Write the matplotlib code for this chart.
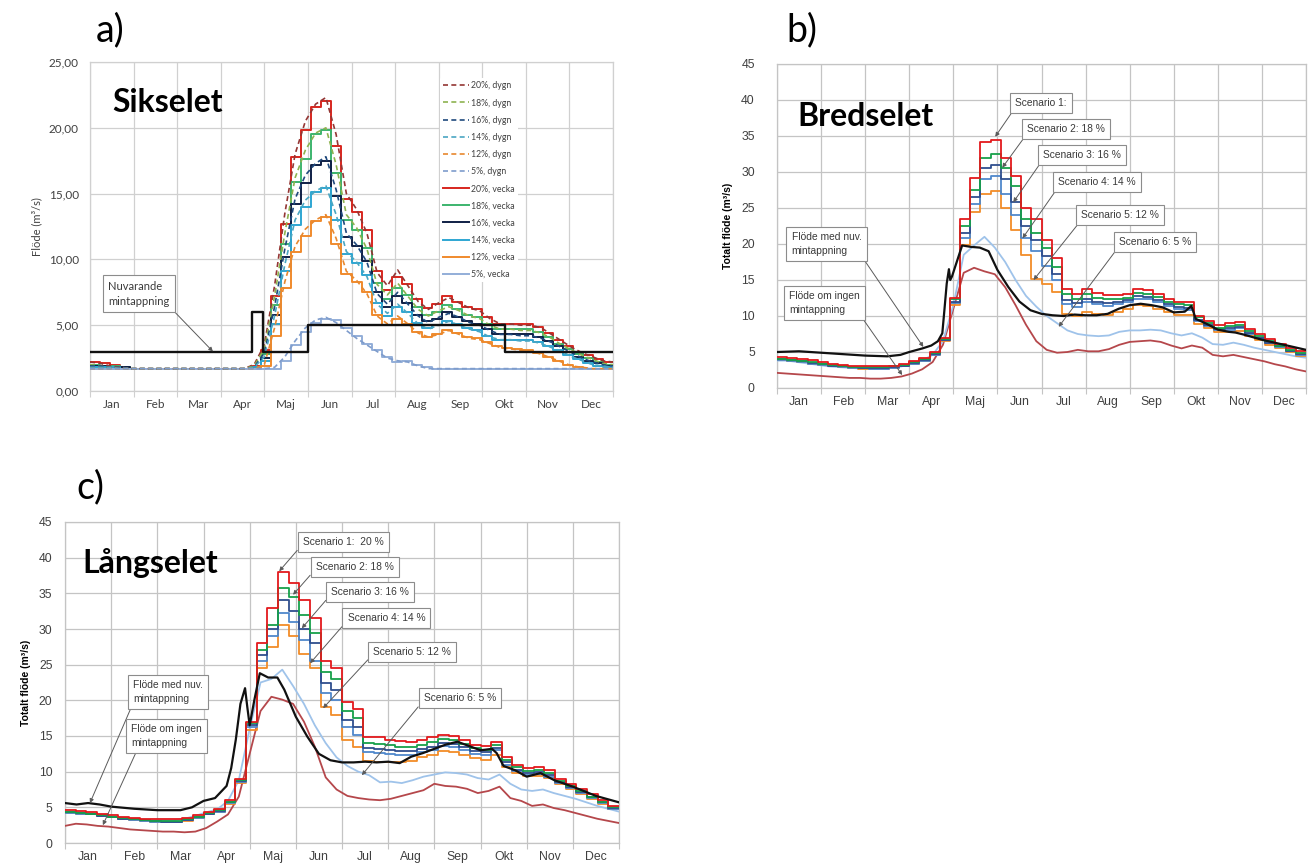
import numpy as np
import matplotlib
matplotlib.use("Agg")
import matplotlib.pyplot as plt

W, H = 1316, 865
plt.rcParams["font.family"] = ["Liberation Sans", "DejaVu Sans"]

MANADER = ["Jan", "Feb", "Mar", "Apr", "Maj", "Jun", "Jul", "Aug", "Sep", "Okt", "Nov", "Dec"]

# veckogränser (i månader) för trappstegskurvorna, och jämnt fördelade punkter för dygnskurvorna
VECKA_KANT = np.arange(53) * 12 / 52
DAG_X = np.linspace(0, 12, 52)

# ---------------- a) Sikselet ----------------
a_v20 = [2.2, 2.1, 2.0, 1.8, 1.7, 1.7, 1.7, 1.7, 1.7, 1.7, 1.7, 1.7, 1.7, 1.7, 1.7, 1.7,
         1.9, 3.1, 7.2, 12.7, 17.8, 19.8, 21.6, 22.0, 18.6, 14.6, 13.6, 12.2, 9.1, 7.7, 8.7, 8.1,
         7.0, 6.3, 6.6, 7.2, 6.8, 6.4, 6.2, 5.6, 5.1, 5.1, 5.1, 5.1, 4.9, 4.4, 3.9, 3.4, 3.0, 2.7, 2.4, 2.2]
a_v18 = [2.0, 1.9, 1.9, 1.8, 1.7, 1.7, 1.7, 1.7, 1.7, 1.7, 1.7, 1.7, 1.7, 1.7, 1.7, 1.7,
         1.8, 2.8, 6.5, 11.2, 15.9, 17.6, 19.5, 19.8, 16.6, 13.0, 12.2, 10.9, 8.2, 7.0, 7.8, 7.3,
         6.4, 5.8, 6.0, 6.5, 6.2, 5.8, 5.6, 5.1, 4.7, 4.7, 4.7, 4.7, 4.5, 4.1, 3.6, 3.2, 2.8, 2.5, 2.2, 2.0]
a_v16 = [1.9, 1.9, 1.8, 1.8, 1.7, 1.7, 1.7, 1.7, 1.7, 1.7, 1.7, 1.7, 1.7, 1.7, 1.7, 1.7,
         1.8, 2.5, 5.8, 10.2, 14.2, 15.8, 17.2, 17.5, 14.8, 11.7, 11.0, 9.9, 7.5, 6.4, 7.2, 6.7,
         5.8, 5.3, 5.5, 6.0, 5.6, 5.3, 5.1, 4.7, 4.3, 4.3, 4.3, 4.3, 4.1, 3.8, 3.4, 3.0, 2.6, 2.3, 2.1, 1.9]
a_v14 = [1.8, 1.8, 1.8, 1.7, 1.7, 1.7, 1.7, 1.7, 1.7, 1.7, 1.7, 1.7, 1.7, 1.7, 1.7, 1.7,
         1.8, 2.3, 5.1, 9.1, 12.6, 14.0, 15.1, 15.4, 13.0, 10.4, 9.7, 8.8, 6.7, 5.7, 6.4, 6.0,
         5.2, 4.8, 5.0, 5.3, 5.1, 4.8, 4.6, 4.2, 3.9, 3.9, 3.9, 3.9, 3.7, 3.4, 3.1, 2.7, 2.4, 2.1, 1.9, 1.8]
a_v12 = [1.7, 1.7, 1.7, 1.7, 1.7, 1.7, 1.7, 1.7, 1.7, 1.7, 1.7, 1.7, 1.7, 1.7, 1.7, 1.7, 1.7,
         1.9, 4.2, 7.8, 10.6, 11.8, 12.9, 13.2, 11.2, 8.9, 8.3, 7.5, 5.8, 5.0, 5.5, 5.1,
         4.5, 4.1, 4.3, 4.6, 4.4, 4.1, 4.0, 3.7, 3.4, 3.3, 3.2, 3.1, 2.9, 2.6, 2.3, 2.0, 1.8, 1.7, 1.7, 1.7]
a_v5 = [1.7, 1.7, 1.7, 1.7, 1.7, 1.7, 1.7, 1.7, 1.7, 1.7, 1.7, 1.7, 1.7, 1.7, 1.7, 1.7, 1.7, 1.7, 1.7,
        2.3, 3.5, 4.5, 5.2, 5.5, 5.4, 4.8, 4.2, 3.6, 3.1, 2.6, 2.2, 2.3, 2.0, 1.8,
        1.7, 1.7, 1.7, 1.7, 1.7, 1.7, 1.7, 1.7, 1.7, 1.7, 1.7, 1.7, 1.7, 1.7, 1.7, 1.7, 1.7, 1.7]

a_d20 = [2.2, 2.1, 1.9, 1.8, 1.7, 1.7, 1.7, 1.7, 1.7, 1.7, 1.7, 1.7, 1.7, 1.7, 1.7, 1.7,
         2.0, 3.5, 8.0, 13.5, 18.0, 20.5, 21.8, 22.3, 19.5, 15.0, 13.8, 12.0, 9.0, 8.0, 9.2, 8.0,
         6.8, 6.2, 6.7, 7.1, 6.7, 6.3, 6.1, 5.5, 5.1, 5.1, 5.0, 5.0, 4.8, 4.3, 3.8, 3.3, 2.9, 2.6, 2.3, 2.2]
a_d18 = [2.0, 1.9, 1.8, 1.8, 1.7, 1.7, 1.7, 1.7, 1.7, 1.7, 1.7, 1.7, 1.7, 1.7, 1.7, 1.7,
         1.9, 3.2, 7.2, 12.0, 16.2, 18.3, 19.6, 20.0, 17.2, 13.4, 12.4, 10.8, 8.1, 7.3, 8.2, 7.2,
         6.2, 5.7, 6.1, 6.4, 6.1, 5.7, 5.5, 5.0, 4.7, 4.7, 4.6, 4.6, 4.4, 4.0, 3.5, 3.1, 2.7, 2.4, 2.1, 2.0]
a_d16 = [1.9, 1.9, 1.8, 1.8, 1.7, 1.7, 1.7, 1.7, 1.7, 1.7, 1.7, 1.7, 1.7, 1.7, 1.7, 1.7,
         1.8, 2.9, 6.4, 10.8, 14.6, 16.4, 17.3, 17.8, 15.3, 12.0, 11.1, 9.8, 7.4, 6.6, 7.5, 6.6,
         5.7, 5.2, 5.6, 5.9, 5.6, 5.2, 5.0, 4.6, 4.3, 4.3, 4.2, 4.2, 4.0, 3.7, 3.3, 2.9, 2.5, 2.2, 2.0, 1.9]
a_d14 = [1.8, 1.8, 1.8, 1.7, 1.7, 1.7, 1.7, 1.7, 1.7, 1.7, 1.7, 1.7, 1.7, 1.7, 1.7, 1.7,
         1.8, 2.6, 5.7, 9.6, 13.0, 14.5, 15.2, 15.6, 13.4, 10.6, 9.8, 8.7, 6.6, 5.9, 6.6, 5.9,
         5.1, 4.7, 5.0, 5.3, 5.0, 4.7, 4.5, 4.1, 3.9, 3.9, 3.8, 3.8, 3.6, 3.3, 3.0, 2.6, 2.3, 2.0, 1.9, 1.8]
a_d12 = [1.7, 1.7, 1.7, 1.7, 1.7, 1.7, 1.7, 1.7, 1.7, 1.7, 1.7, 1.7, 1.7, 1.7, 1.7, 1.7, 1.7,
         2.0, 4.8, 8.3, 11.0, 12.3, 13.0, 13.4, 11.6, 9.1, 8.4, 7.4, 5.7, 5.1, 5.7, 5.1,
         4.4, 4.1, 4.3, 4.6, 4.3, 4.0, 3.9, 3.6, 3.3, 3.2, 3.1, 3.0, 2.8, 2.5, 2.2, 1.9, 1.8, 1.7, 1.7, 1.7]
a_d5 = [1.7, 1.7, 1.7, 1.7, 1.7, 1.7, 1.7, 1.7, 1.7, 1.7, 1.7, 1.7, 1.7, 1.7, 1.7, 1.7, 1.7, 1.7,
        1.8, 2.6, 3.8, 4.8, 5.4, 5.6, 5.2, 4.6, 4.0, 3.5, 3.0, 2.5, 2.3, 2.2, 1.9,
        1.7, 1.7, 1.7, 1.7, 1.7, 1.7, 1.7, 1.7, 1.7, 1.7, 1.7, 1.7, 1.7, 1.7, 1.7, 1.7, 1.7, 1.7, 1.7]

# nuvarande mintappning (brytpunkter, månad -> m3/s)
a_nuv_x = [0, 3.71, 3.97, 5.0, 9.52, 12]
a_nuv_y = [3, 6, 3, 5, 3, 3]

# ---------------- b) Bredselet ----------------
b_s1 = [4.3, 4.2, 4.0, 3.9, 3.6, 3.4, 3.2, 3.1, 3.0, 3.0, 3.0, 3.1, 3.3, 3.8, 4.2, 5.0, 7.0, 12.5,
        23.5, 29.2, 34.2, 34.5, 32.0, 29.5, 25.0, 23.5, 20.5, 18.0, 13.8, 13.0, 13.8, 13.2, 12.9, 12.9,
        13.0, 13.8, 13.6, 13.0, 12.4, 12.0, 11.9, 10.0, 9.3, 8.7, 9.0, 9.2, 8.2, 7.5, 6.8, 6.1, 5.6, 5.1]
b_s2 = [4.0, 3.9, 3.8, 3.6, 3.4, 3.2, 3.0, 2.9, 2.9, 2.9, 2.9, 3.0, 3.2, 3.6, 4.0, 4.8, 6.8, 12.3,
        22.5, 27.5, 32.0, 32.5, 30.5, 28.0, 23.5, 21.5, 19.5, 16.8, 13.0, 12.4, 13.0, 12.5, 12.3, 12.4,
        12.5, 13.2, 13.1, 12.6, 12.0, 11.6, 11.5, 9.8, 9.0, 8.4, 8.6, 8.8, 7.9, 7.2, 6.5, 5.9, 5.3, 4.8]
b_s3 = [4.0, 3.9, 3.7, 3.5, 3.3, 3.1, 3.0, 2.9, 2.8, 2.8, 2.8, 2.9, 3.1, 3.5, 3.9, 4.7, 6.7, 12.0,
        21.5, 26.5, 30.5, 31.0, 29.0, 25.8, 22.5, 20.5, 18.3, 15.8, 12.2, 11.8, 12.4, 12.0, 11.8, 12.0,
        12.2, 12.8, 12.7, 12.2, 11.7, 11.3, 11.1, 9.5, 8.8, 8.2, 8.3, 8.5, 7.7, 7.0, 6.3, 5.8, 5.2, 4.7]
b_s4 = [3.9, 3.8, 3.6, 3.4, 3.2, 3.0, 2.9, 2.8, 2.8, 2.7, 2.7, 2.8, 3.0, 3.4, 3.8, 4.6, 6.6, 11.8,
        20.8, 25.5, 29.0, 29.5, 27.0, 24.0, 20.8, 19.0, 17.0, 15.0, 11.6, 11.2, 11.9, 11.6, 11.4, 11.7,
        11.9, 12.4, 12.3, 11.9, 11.4, 11.0, 10.9, 9.3, 8.6, 8.0, 8.1, 8.3, 7.5, 6.9, 6.2, 5.7, 5.1, 4.6]
b_s5 = [3.9, 3.8, 3.6, 3.4, 3.2, 3.0, 2.9, 2.8, 2.7, 2.7, 2.7, 2.8, 3.0, 3.4, 3.8, 4.6, 6.5, 11.5,
        19.8, 24.5, 27.0, 27.3, 25.0, 22.0, 18.5, 15.2, 14.5, 13.4, 10.3, 10.0, 10.5, 10.3, 10.2, 10.6,
        11.0, 11.5, 11.4, 11.0, 10.5, 10.2, 10.2, 8.9, 8.3, 7.8, 7.8, 7.9, 7.2, 6.6, 6.0, 5.5, 5.0, 4.5]
b_s6 = [3.8, 3.8, 3.6, 3.4, 3.2, 3.0, 2.9, 2.8, 2.7, 2.7, 2.7, 2.8, 3.0, 3.4, 3.8, 4.6, 6.5, 11.5,
        18.5, 19.8, 21.0, 19.5, 17.5, 15.0, 12.8, 11.3, 10.0, 9.0, 8.0, 7.5, 7.3, 7.2, 7.3, 7.8,
        8.0, 8.0, 8.1, 8.0, 7.6, 7.3, 7.6, 7.0, 6.1, 6.0, 6.3, 6.0, 5.6, 5.3, 5.0, 4.7, 4.4, 4.2]
b_ingen = [2.1, 2.0, 1.9, 1.8, 1.7, 1.6, 1.5, 1.4, 1.4, 1.3, 1.3, 1.4, 1.6, 2.0, 2.6, 3.6, 6.0, 11.0,
           16.0, 16.7, 16.2, 15.8, 14.0, 11.5, 8.8, 6.5, 5.3, 4.9, 5.0, 5.3, 5.1, 5.1, 5.4, 6.0,
           6.4, 6.5, 6.6, 6.4, 5.9, 5.5, 5.9, 5.6, 4.6, 4.4, 4.6, 4.3, 4.0, 3.7, 3.3, 3.0, 2.6, 2.3]
b_nuv_x = [0, 0.5, 1.0, 1.5, 2.0, 2.5, 2.8, 3.0, 3.3, 3.5, 3.65, 3.75, 3.8, 3.85, 3.9, 3.93, 3.97,
           4.05, 4.2, 4.4, 4.6, 4.8, 5.0, 5.25, 5.5, 5.75, 6.0, 6.25, 6.5, 6.75, 7.0, 7.25, 7.5,
           7.75, 8.0, 8.25, 8.5, 8.75, 9.0, 9.25, 9.4, 9.5, 9.75, 10.0, 10.25, 10.4, 10.6, 11.0, 11.5, 12.0]
b_nuv_y = [5.0, 5.1, 4.9, 4.7, 4.5, 4.4, 4.6, 5.0, 5.5, 5.9, 6.5, 7.6, 11.0, 14.5, 16.5, 15.0, 15.5,
           17.0, 19.8, 19.6, 19.5, 19.0, 16.4, 14.0, 12.0, 10.8, 10.3, 10.1, 10.0, 10.2, 10.1, 10.1, 10.3,
           11.0, 11.5, 11.7, 11.5, 11.2, 10.5, 10.6, 11.4, 9.6, 8.9, 8.1, 7.8, 7.7, 7.4, 6.7, 6.0, 5.3]

# ---------------- c) Långselet ----------------
c_s1 = [4.6, 4.5, 4.4, 4.1, 3.9, 3.7, 3.5, 3.4, 3.3, 3.3, 3.3, 3.5, 3.9, 4.4, 4.8, 6.0, 9.0, 17.0,
        28.0, 33.0, 38.0, 36.5, 34.0, 31.5, 25.5, 24.5, 19.8, 18.8, 14.9, 14.8, 14.5, 14.3, 14.2, 14.5,
        14.8, 15.2, 15.0, 14.4, 13.8, 13.6, 14.2, 12.0, 11.0, 10.5, 10.6, 10.2, 9.0, 8.3, 7.6, 6.8, 6.0, 5.2]
c_s2 = [4.3, 4.2, 4.1, 3.9, 3.7, 3.5, 3.3, 3.2, 3.1, 3.1, 3.1, 3.3, 3.7, 4.2, 4.6, 5.8, 8.8, 16.8,
        27.0, 30.5, 35.8, 34.5, 32.0, 29.5, 24.0, 23.0, 18.5, 17.5, 14.0, 13.9, 13.7, 13.5, 13.5, 13.8,
        14.1, 14.6, 14.4, 13.9, 13.3, 13.1, 13.7, 11.6, 10.6, 10.1, 10.2, 9.8, 8.7, 8.0, 7.3, 6.5, 5.8, 5.0]
c_s3 = [4.3, 4.2, 4.0, 3.8, 3.6, 3.4, 3.3, 3.2, 3.1, 3.0, 3.0, 3.2, 3.6, 4.1, 4.5, 5.7, 8.7, 16.5,
        26.3, 30.0, 34.0, 32.5, 30.0, 28.0, 22.5, 21.5, 17.3, 16.3, 13.3, 13.2, 13.0, 12.9, 12.9, 13.2,
        13.5, 14.0, 13.9, 13.4, 12.9, 12.7, 13.3, 11.3, 10.3, 9.8, 9.9, 9.5, 8.5, 7.8, 7.1, 6.4, 5.7, 4.9]
c_s4 = [4.2, 4.1, 4.0, 3.8, 3.6, 3.4, 3.2, 3.1, 3.0, 3.0, 3.0, 3.2, 3.5, 4.0, 4.4, 5.6, 8.6, 16.2,
        25.5, 29.0, 32.3, 31.0, 28.5, 25.5, 21.0, 20.0, 16.2, 15.2, 12.7, 12.6, 12.5, 12.4, 12.4, 12.8,
        13.1, 13.6, 13.5, 13.0, 12.5, 12.3, 13.0, 11.0, 10.1, 9.6, 9.7, 9.3, 8.4, 7.7, 7.0, 6.3, 5.6, 4.8]
c_s5 = [4.2, 4.1, 4.0, 3.8, 3.6, 3.4, 3.2, 3.1, 3.0, 3.0, 3.0, 3.1, 3.5, 4.0, 4.4, 5.5, 8.4, 15.8,
        24.5, 27.5, 30.5, 29.0, 26.5, 24.5, 19.0, 18.0, 14.5, 13.5, 11.5, 11.4, 11.4, 11.4, 11.5, 12.0,
        12.4, 12.9, 12.8, 12.4, 11.9, 11.7, 12.4, 10.6, 9.8, 9.4, 9.4, 9.1, 8.3, 7.6, 6.9, 6.2, 5.5, 4.7]
c_s6 = [4.3, 4.3, 4.2, 4.0, 3.8, 3.6, 3.4, 3.3, 3.2, 3.2, 3.2, 3.4, 3.8, 4.3, 4.7, 5.9, 8.8, 16.0,
        22.5, 23.0, 24.3, 22.0, 19.5, 16.5, 14.0, 12.0, 10.8, 10.0, 9.5, 8.5, 8.6, 8.4, 8.8, 9.3,
        9.6, 9.9, 9.8, 9.6, 9.1, 8.9, 9.6, 8.3, 7.5, 7.3, 7.5, 7.0, 6.6, 6.2, 5.7, 5.2, 4.8, 4.4]
c_ingen = [2.4, 2.7, 2.6, 2.4, 2.3, 2.1, 1.9, 1.8, 1.7, 1.6, 1.6, 1.5, 1.6, 2.1, 3.0, 4.0, 6.5, 12.5,
           18.5, 20.5, 20.1, 19.5, 17.0, 13.5, 9.2, 7.5, 6.6, 6.3, 6.1, 6.0, 6.2, 6.6, 7.0, 7.4,
           8.3, 8.0, 7.9, 7.6, 7.0, 7.3, 7.9, 6.3, 5.9, 5.2, 5.4, 4.9, 4.6, 4.2, 3.8, 3.4, 3.1, 2.8]
c_nuv_x = [0, 0.25, 0.5, 0.75, 1.0, 1.5, 2.0, 2.5, 2.75, 3.0, 3.25, 3.5, 3.6, 3.7, 3.8, 3.9, 3.95,
           4.0, 4.1, 4.22, 4.4, 4.6, 4.75, 5.0, 5.25, 5.5, 5.75, 6.0, 6.25, 6.5, 6.75, 7.0, 7.25,
           7.5, 7.75, 8.0, 8.25, 8.5, 8.75, 9.0, 9.25, 9.35, 9.5, 9.75, 10.0, 10.3, 10.6, 11.0, 11.5, 12.0]
c_nuv_y = [5.6, 5.4, 5.6, 5.4, 5.1, 4.8, 4.6, 4.6, 5.0, 5.9, 6.3, 8.0, 10.5, 14.5, 19.5, 21.7, 19.0,
           16.5, 20.0, 23.8, 23.2, 23.2, 21.5, 17.7, 14.9, 12.5, 11.6, 11.3, 11.3, 11.4, 11.3, 11.4, 11.2,
           12.1, 12.6, 13.2, 13.8, 14.2, 13.6, 13.0, 13.2, 12.6, 10.8, 10.2, 9.3, 9.8, 8.8, 7.9, 6.6, 5.7]

SCEN_TEXT = ["Scenario 1:", "Scenario 2: 18 %", "Scenario 3: 16 %",
             "Scenario 4: 14 %", "Scenario 5: 12 %", "Scenario 6: 5 %"]

FARG_SCEN = ["#e3191c", "#17a04a", "#2f4e8e", "#4f88cc", "#f28c28", "#9fc3ea"]
FARG_INGEN = "#b5474b"


def px_axes(fig, left, top, right, bottom):
    return fig.add_axes([left / W, 1 - bottom / H, (right - left) / W, (bottom - top) / H])


def setup(ax, ymax, ystep, gridcol, fmt, font, fs, pad_x, pad_y):
    ax.set_xlim(0, 12)
    ax.set_ylim(0, ymax)
    ax.set_xticks(np.arange(13))
    ax.set_xticklabels([])
    ax.set_xticks(np.arange(12) + 0.5, minor=True)
    ax.set_xticklabels(MANADER, minor=True, fontsize=fs, family=font, color="#404040")
    ax.tick_params(axis="x", which="minor", length=0, pad=pad_x)
    ax.tick_params(axis="x", which="major", length=4, color=gridcol)
    yt = np.arange(0, ymax + 0.01, ystep)
    ax.set_yticks(yt)
    ax.set_yticklabels([fmt(v) for v in yt], fontsize=fs, family=font, color="#404040")
    ax.tick_params(axis="y", length=0, pad=pad_y)
    ax.grid(True, which="major", color=gridcol, lw=0.9)
    ax.set_axisbelow(True)
    for s in ax.spines.values():
        s.set_color(gridcol)
        s.set_linewidth(0.9)


def veckosteg(ax, vals, color, lw=1.4, **kw):
    ax.step(VECKA_KANT, np.append(vals, vals[-1]), where="post", color=color, lw=lw, **kw)


def ruta(ax, text, xy, xytext, relpos, fs=7.4, font="Liberation Sans"):
    ax.annotate(text, xy=xy, xytext=xytext, textcoords="data", ha="left", va="center",
                fontsize=fs, family=font, color="#3a3a3a", linespacing=1.45,
                bbox=dict(boxstyle="square,pad=0.5", fc="white", ec="#8c8c8c", lw=0.8),
                arrowprops=dict(arrowstyle="-|>", color="#5a5a5a", lw=0.7, mutation_scale=6,
                                shrinkA=0, shrinkB=0, relpos=relpos),
                zorder=10)


fig = plt.figure(figsize=(W / 100, H / 100), dpi=100)
fig.patch.set_facecolor("white")

# ---- a ----
axa = px_axes(fig, 90, 62, 613, 391)
setup(axa, 25, 5, "#d0d0d0", lambda v: f"{v:.2f}".replace(".", ","), "Lato", 8.5, 6, 8)

vecka = [(a_v20, "#d7261e", "20%, vecka"), (a_v18, "#3cb46e", "18%, vecka"),
         (a_v16, "#0f1f45", "16%, vecka"), (a_v14, "#2ea6d2", "14%, vecka"),
         (a_v12, "#f08a2c", "12%, vecka"), (a_v5, "#93aed8", "5%, vecka")]
dygn = [(a_d20, "#943634", "20%, dygn"), (a_d18, "#8db350", "18%, dygn"),
        (a_d16, "#1f497d", "16%, dygn"), (a_d14, "#4aa6c2", "14%, dygn"),
        (a_d12, "#e8882e", "12%, dygn"), (a_d5, "#7e9ccc", "5%, dygn")]

handles = []
for vals, col, lab in dygn:
    h, = axa.plot(DAG_X, vals, color=col, lw=1.2, ls=(0, (3, 2)), label=lab, zorder=4)
    handles.append(h)
for vals, col, lab in vecka:
    veckosteg(axa, vals, col, lw=1.4, zorder=3)
    handles.append(plt.Line2D([], [], color=col, lw=1.4, label=lab))
axa.step(a_nuv_x, a_nuv_y, where="post", color="#111111", lw=1.7, zorder=5)

leg = axa.legend(handles=handles, loc="upper left", bbox_to_anchor=(0.66, 0.965),
                 fontsize=6.3, frameon=True, facecolor="white", edgecolor="none", framealpha=1,
                 handlelength=3.0, handletextpad=0.2, labelspacing=0.93, borderpad=0.4)
for t in leg.get_texts():
    t.set_family("Lato")
    t.set_color("#404040")

ruta(axa, "Nuvarande\nmintappning", xy=(2.82, 3.0), xytext=(0.42, 7.4), relpos=(1, 0),
     fs=8, font="Lato")
axa.set_ylabel("Flöde (m³/s)", fontsize=8, family="Lato", color="#404040", labelpad=5)

# ---- b ----
axb = px_axes(fig, 777, 64, 1306, 388)
setup(axb, 45, 5, "#c4c4c4", lambda v: f"{v:.0f}", "Liberation Sans", 8.8, 6, 16)
axb.plot(DAG_X, b_ingen, color=FARG_INGEN, lw=1.3, zorder=3)
axb.plot(DAG_X, b_s6, color=FARG_SCEN[5], lw=1.3, zorder=3)
for vals, col in zip([b_s5, b_s4, b_s3, b_s2, b_s1], FARG_SCEN[4::-1]):
    veckosteg(axb, vals, col, lw=1.3, zorder=3)
axb.plot(b_nuv_x, b_nuv_y, color="#111111", lw=1.6, zorder=4)
axb.set_ylabel("Totalt flöde (m³/s)", fontsize=7.5, fontweight="bold", labelpad=6)

b_spetsar = [(4.95, 34.9), (5.11, 30.6), (5.36, 25.8), (5.57, 20.8), (5.82, 15.0), (6.39, 8.5)]
b_rutor = [(5.4, 39.6), (5.67, 36.0), (6.03, 32.4), (6.38, 28.6), (6.9, 24.0), (7.75, 20.3)]
for txt, tip, pos in zip(SCEN_TEXT, b_spetsar, b_rutor):
    ruta(axb, txt, xy=tip, xytext=pos, relpos=(0, 0))
ruta(axb, "Flöde med nuv.\nmintappning", xy=(3.32, 5.7), xytext=(0.33, 20.0), relpos=(1, 0))
ruta(axb, "Flöde om ingen\nmintappning", xy=(2.84, 1.8), xytext=(0.28, 11.8), relpos=(1, 0))

# ---- c ----
axc = px_axes(fig, 65, 522, 619, 843)
setup(axc, 45, 5, "#c4c4c4", lambda v: f"{v:.0f}", "Liberation Sans", 8.8, 6, 9)
axc.plot(DAG_X, c_ingen, color=FARG_INGEN, lw=1.3, zorder=3)
axc.plot(DAG_X, c_s6, color=FARG_SCEN[5], lw=1.3, zorder=3)
for vals, col in zip([c_s5, c_s4, c_s3, c_s2, c_s1], FARG_SCEN[4::-1]):
    veckosteg(axc, vals, col, lw=1.3, zorder=3)
axc.plot(c_nuv_x, c_nuv_y, color="#111111", lw=1.6, zorder=4)
axc.set_ylabel("Totalt flöde (m³/s)", fontsize=7.5, fontweight="bold", labelpad=6)

c_text = ["Scenario 1:  20 %"] + SCEN_TEXT[1:]
c_spetsar = [(4.64, 38.1), (4.94, 34.8), (5.13, 30.1), (5.31, 25.2), (5.59, 18.9), (6.43, 9.5)]
c_rutor = [(5.15, 42.2), (5.43, 38.7), (5.77, 35.2), (6.12, 31.5), (6.68, 26.8), (7.77, 20.3)]
for txt, tip, pos in zip(c_text, c_spetsar, c_rutor):
    ruta(axc, txt, xy=tip, xytext=pos, relpos=(0, 0.3))
ruta(axc, "Flöde med nuv.\nmintappning", xy=(0.54, 5.6), xytext=(1.47, 21.2), relpos=(0, 0))
ruta(axc, "Flöde om ingen\nmintappning", xy=(0.82, 2.5), xytext=(1.43, 15.0), relpos=(0.1, 0))

# ---- paneletiketter och platsnamn ----
for txt, x, y in [("a)", 110, 30), ("b)", 802, 30), ("c)", 90, 487)]:
    fig.text(x / W, 1 - y / H, txt, fontsize=27, family="Lato", ha="center", va="center")
for txt, x, y in [("Sikselet", 112, 103), ("Bredselet", 797, 117), ("Långselet", 82, 563)]:
    fig.text(x / W, 1 - y / H, txt, fontsize=23, family="Lato", fontweight="bold",
             ha="left", va="center")

fig.savefig("out.png", dpi=100, facecolor="white")
